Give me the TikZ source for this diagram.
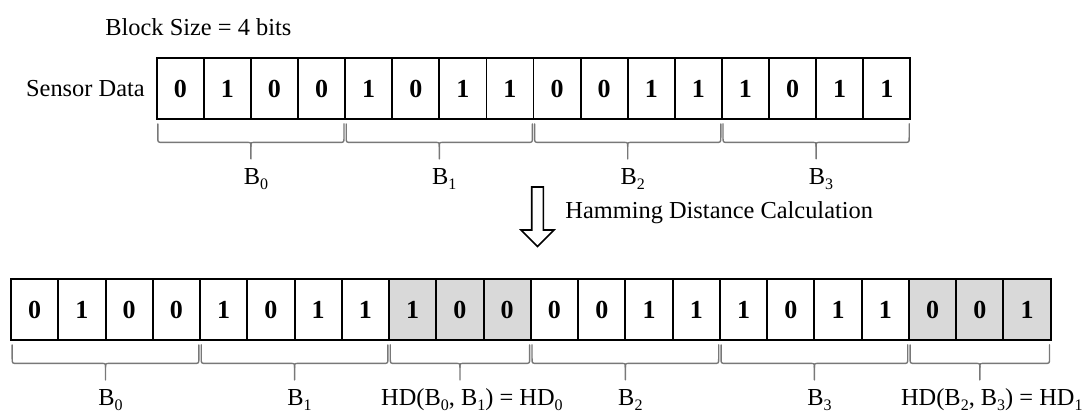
\documentclass[tikz,border=0pt]{standalone}
\usepackage{fontspec}
\setmainfont{Liberation Serif}
\usetikzlibrary{calc}

\definecolor{hdfill}{RGB}{217,217,217}
\definecolor{bracegray}{RGB}{120,120,120}

% lowered subscript digit
\newcommand{\sbs}[1]{\raisebox{-0.45ex}{\fontsize{8}{8}\selectfont #1}}

% curly brace under a run of cells, with its label
% #1 first cell, #2 last cell, #3 name, #4 label x shift, #5 label text
\newcommand{\blockbrace}[5]{%
  \coordinate (#3-l) at ($(#1.south west)+(2,4)$);
  \coordinate (#3-r) at ($(#2.south east)+(-2,4)$);
  \coordinate (#3-c) at ($(#3-l)!0.5!(#3-r)$);
  \draw[bracepath]
    (#3-l) -- ($(#3-l)+(0,13.5)$) .. controls ($(#3-l)+(0,18.5)$) .. ($(#3-l)+(5,18.5)$)
    -- ($(#3-c)+(-4,18.5)$) .. controls ($(#3-c)+(0,18.5)$) .. ($(#3-c)+(0,22.5)$)
    -- ($(#3-c)+(0,35)$);
  \draw[bracepath]
    ($(#3-c)+(0,22.5)$) .. controls ($(#3-c)+(0,18.5)$) .. ($(#3-c)+(4,18.5)$)
    -- ($(#3-r)+(-5,18.5)$) .. controls ($(#3-r)+(0,18.5)$) .. ($(#3-r)+(0,13.5)$)
    -- (#3-r);
  \node[lbl] (#3) at ($(#3-c)+(#4,55)$) {#5};
}

\tikzset{
  bit/.style={draw, line width=0.9pt, minimum width=23.55pt, minimum height=30.5pt,
    inner sep=0pt, font=\fontsize{13}{13}\selectfont\bfseries},
  hdbit/.style={bit, fill=hdfill},
  lbl/.style={font=\fontsize{12.2}{14}\selectfont, inner sep=0pt},
  bracepath/.style={draw=bracegray, line width=0.7pt, line join=round, line cap=round},
  hollowarrow/.style={draw, line width=0.8pt, line join=miter, fill=white},
}

\begin{document}
\begin{tikzpicture}[x=0.5pt, y=-0.5pt]
  \useasboundingbox (0,0) rectangle (1084,413);

  % header
  \node[lbl, anchor=west] (blocksize) at (105,27) {Block Size = 4 bits};

  % raw sensor data
  \foreach \v [count=\i from 0] in {0,1,0,0,1,0,1,1,0,0,1,1,1,0,1,1}
    \node[bit] (t\i) at ({156.7+47.1*(\i+0.5)}, 88.5) {\v};
  \node[lbl, anchor=east] (sensor) at ($(t0.west)+(-10.7,0.5)$) {Sensor Data};

  \blockbrace{t0}{t3}{tb0}{5}{B\sbs{0}}
  \blockbrace{t4}{t7}{tb1}{5}{B\sbs{1}}
  \blockbrace{t8}{t11}{tb2}{5}{B\sbs{2}}
  \blockbrace{t12}{t15}{tb3}{5}{B\sbs{3}}

  % processing step
  \draw[hollowarrow] (531.7,187) -- (543.3,187) -- (543.3,230) -- (554,230)
    -- (537.5,246.5) -- (521,230) -- (531.7,230) -- cycle;
  \node[lbl, anchor=west] (hdcalc) at (565,213) {Hamming Distance Calculation};

  % data with Hamming distances inserted
  \foreach \v/\s [count=\i from 0] in {0/bit,1/bit,0/bit,0/bit,1/bit,0/bit,1/bit,1/bit,
      1/hdbit,0/hdbit,0/hdbit,0/bit,0/bit,1/bit,1/bit,1/bit,0/bit,1/bit,1/bit,
      0/hdbit,0/hdbit,1/hdbit}
    \node[\s] (b\i) at ({11+47.26*(\i+0.5)}, 309.5) {\v};

  \blockbrace{b0}{b3}{bb0}{5}{B\sbs{0}}
  \blockbrace{b4}{b7}{bb1}{5}{B\sbs{1}}
  \blockbrace{b8}{b10}{hd0}{12}{HD(B\sbs{0}, B\sbs{1}) = HD\sbs{0}}
  \blockbrace{b11}{b14}{bb2}{5}{B\sbs{2}}
  \blockbrace{b15}{b18}{bb3}{5}{B\sbs{3}}
  \blockbrace{b19}{b21}{hd1}{12}{HD(B\sbs{2}, B\sbs{3}) = HD\sbs{1}}
\end{tikzpicture}
\end{document}
